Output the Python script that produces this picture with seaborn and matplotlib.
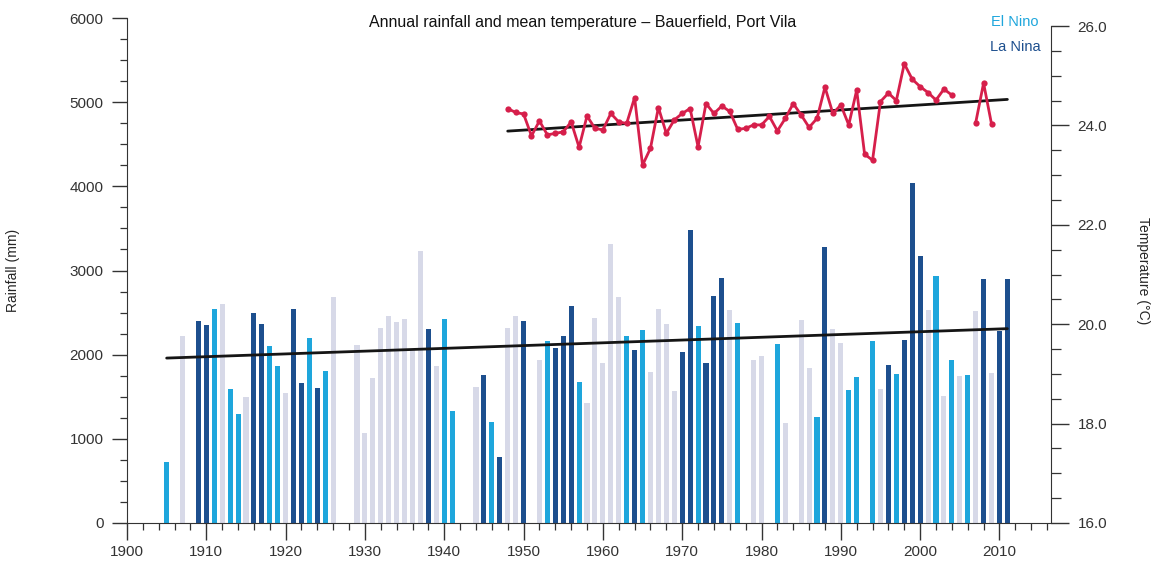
import numpy as np
import pandas as pd
import matplotlib
matplotlib.use("Agg")
import matplotlib.pyplot as plt
from matplotlib.ticker import MultipleLocator, FormatStrFormatter
import seaborn as sns

# ---------------- data ----------------
rain_years = [1905, 1907, 1909, 1910, 1911, 1912, 1913, 1914, 1915, 1916, 1917, 1918, 1919,
              1920, 1921, 1922, 1923, 1924, 1925, 1926, 1929, 1930, 1931, 1932, 1933, 1934,
              1935, 1936, 1937, 1938, 1939, 1940, 1941, 1944, 1945, 1946, 1947, 1948, 1949,
              1950, 1952, 1953, 1954, 1955, 1956, 1957, 1958, 1959, 1960, 1961, 1962, 1963,
              1964, 1965, 1966, 1967, 1968, 1969, 1970, 1971, 1972, 1973, 1974, 1975, 1976,
              1977, 1979, 1980, 1982, 1983, 1985, 1986, 1987, 1988, 1989, 1990, 1991, 1992,
              1994, 1995, 1996, 1997, 1998, 1999, 2000, 2001, 2002, 2003, 2004, 2005, 2006,
              2007, 2008, 2009, 2010, 2011]
rainfall_mm = [730, 2220, 2400, 2350, 2540, 2600, 1590, 1300, 1500, 2490, 2365, 2100, 1870,
               1540, 2540, 1660, 2200, 1600, 1810, 2680, 2110, 1070, 1720, 2320, 2465, 2390,
               2420, 2050, 3230, 2305, 1860, 2420, 1325, 1620, 1760, 1205, 790, 2320, 2455,
               2405, 1940, 2160, 2080, 2220, 2575, 1670, 1425, 2430, 1900, 3320, 2690, 2225,
               2060, 2290, 1790, 2545, 2365, 1565, 2035, 3480, 2335, 1900, 2695, 2915, 2535,
               2375, 1940, 1980, 2130, 1185, 2415, 1840, 1255, 3280, 2300, 2140, 1585, 1740,
               2160, 1590, 1880, 1770, 2170, 4045, 3170, 2535, 2935, 1505, 1940, 1750, 1755,
               2515, 2895, 1780, 2280, 2895]
enso_phase = ["El Nino", "Neutral", "La Nina", "La Nina", "El Nino", "Neutral", "El Nino",
              "El Nino", "Neutral", "La Nina", "La Nina", "El Nino", "El Nino",
              "Neutral", "La Nina", "La Nina", "El Nino", "La Nina", "El Nino", "Neutral",
              "Neutral", "Neutral", "Neutral", "Neutral", "Neutral", "Neutral",
              "Neutral", "Neutral", "Neutral", "La Nina", "Neutral", "El Nino", "El Nino",
              "Neutral", "La Nina", "El Nino", "La Nina", "Neutral", "Neutral",
              "La Nina", "Neutral", "El Nino", "La Nina", "La Nina", "La Nina", "El Nino",
              "Neutral", "Neutral", "Neutral", "Neutral", "Neutral", "El Nino",
              "La Nina", "El Nino", "Neutral", "Neutral", "Neutral", "Neutral", "La Nina",
              "La Nina", "El Nino", "La Nina", "La Nina", "La Nina", "Neutral",
              "El Nino", "Neutral", "Neutral", "El Nino", "Neutral", "Neutral", "Neutral",
              "El Nino", "La Nina", "Neutral", "Neutral", "El Nino", "El Nino",
              "El Nino", "Neutral", "La Nina", "El Nino", "La Nina", "La Nina", "La Nina",
              "Neutral", "El Nino", "Neutral", "El Nino", "Neutral", "El Nino",
              "Neutral", "La Nina", "Neutral", "La Nina", "La Nina"]

temp_years = list(range(1948, 2005)) + [2007, 2008, 2009]
mean_temp_c = [24.34, 24.26, 24.23, 23.79, 24.09, 23.81, 23.84, 23.87, 24.07, 23.56,
               24.19, 23.94, 23.91, 24.24, 24.07, 24.04, 24.56, 23.20, 23.54, 24.36,
               23.84, 24.11, 24.24, 24.34, 23.57, 24.44, 24.24, 24.39, 24.28, 23.92,
               23.94, 24.01, 24.01, 24.18, 23.89, 24.14, 24.44, 24.21, 23.96, 24.14,
               24.77, 24.24, 24.41, 24.01, 24.71, 23.42, 23.30, 24.48, 24.65, 24.50,
               25.24, 24.93, 24.78, 24.66, 24.51, 24.73, 24.61,
               24.05, 24.85, 24.03]

phase_colors = {"El Nino": "#1ea6dc", "La Nina": "#1d4f8e", "Neutral": "#d7d9e8"}
temp_color = "#d61f4b"

# ---------------- style ----------------
sns.set_style("ticks")
plt.rcParams['font.family'] = ['Liberation Sans', 'DejaVu Sans']
plt.rcParams['axes.edgecolor'] = '#333333'
plt.rcParams['xtick.color'] = '#333333'
plt.rcParams['ytick.color'] = '#333333'

fig = plt.figure(figsize=(11.6, 5.8), dpi=100)
ax = fig.add_axes([127 / 1160, 1 - 523 / 580, (1051 - 127) / 1160, (523 - 18) / 580])

rain_df = pd.DataFrame({"year": rain_years, "rain": rainfall_mm, "phase": enso_phase})
sns.barplot(data=rain_df, x="year", y="rain", hue="phase", palette=phase_colors,
            native_scale=True, dodge=False, width=0.64, errorbar=None, legend=False,
            saturation=1, linewidth=0, ax=ax)

# rainfall linear trend
rc = np.polyfit(rain_years, rainfall_mm, 1)
rx = np.array([rain_years[0], rain_years[-1]], dtype=float)
sns.lineplot(x=rx, y=np.polyval(rc, rx), color="#151515", lw=2.0, ax=ax)

ax.set_xlim(1900, 2016.5)
ax.set_ylim(0, 6000)
ax.xaxis.set_major_locator(MultipleLocator(10))
ax.xaxis.set_minor_locator(MultipleLocator(2))
ax.yaxis.set_major_locator(MultipleLocator(1000))
ax.yaxis.set_minor_locator(MultipleLocator(250))
ax.tick_params(axis="x", which="major", length=12, width=1.0, labelsize=11, pad=4)
ax.tick_params(axis="x", which="minor", length=5, width=0.9)
ax.tick_params(axis="y", which="major", length=11, width=1.0, labelsize=11, pad=6)
ax.tick_params(axis="y", which="minor", length=5, width=0.9)
ax.set_xlabel("")
ax.set_ylabel("Rainfall (mm)", fontsize=10)
ax.yaxis.set_label_coords((20 - 127) / 924, 0.5)
for s in ["top", "right"]:
    ax.spines[s].set_visible(False)

# ---------------- temperature ----------------
ax2 = ax.twinx()
tc = np.polyfit(temp_years, mean_temp_c, 1)
tx = np.array([temp_years[0], rain_years[-1]], dtype=float)
sns.lineplot(x=tx, y=np.polyval(tc, tx), color="#151515", lw=2.0, ax=ax2)

ty = np.array(temp_years)
tv = np.array(mean_temp_c)
breaks = np.where(np.diff(ty) > 1)[0] + 1
for seg_y, seg_v in zip(np.split(ty, breaks), np.split(tv, breaks)):
    sns.lineplot(x=seg_y, y=seg_v, color=temp_color, lw=2.0, marker="o",
                 markersize=4.5, markeredgewidth=0, ax=ax2)

ax2.set_ylim(16, 16 + 10 * 505 / 497)
ax2.yaxis.set_major_locator(MultipleLocator(2))
ax2.yaxis.set_minor_locator(MultipleLocator(0.5))
ax2.yaxis.set_major_formatter(FormatStrFormatter("%.1f"))
ax2.tick_params(axis="y", which="major", length=13, width=1.0, labelsize=11, pad=6)
ax2.tick_params(axis="y", which="minor", length=7, width=0.9)
ax2.spines["right"].set_bounds(16, 26)
for s in ["top", "left", "bottom"]:
    ax2.spines[s].set_visible(False)
ax2.set_ylabel("Temperature (°C)", fontsize=10, rotation=270, va="center")
ax2.yaxis.set_label_coords((1143 - 127) / 924, 0.5)
ax2.set_xlim(1900, 2016.5)

# ---------------- texts ----------------
ax.text(0.4935, 0.992, "Annual rainfall and mean temperature \u2013 Bauerfield, Port Vila",
        transform=ax.transAxes, ha="center", va="center", fontsize=11.5, color="#111111")
ax.text(0.961, 0.992, "El Nino", transform=ax.transAxes, ha="center", va="center",
        fontsize=10.5, color=phase_colors["El Nino"])
ax.text(0.961, 0.943, "La Nina", transform=ax.transAxes, ha="center", va="center",
        fontsize=10.5, color=phase_colors["La Nina"])

fig.savefig("out.png", dpi=100)
